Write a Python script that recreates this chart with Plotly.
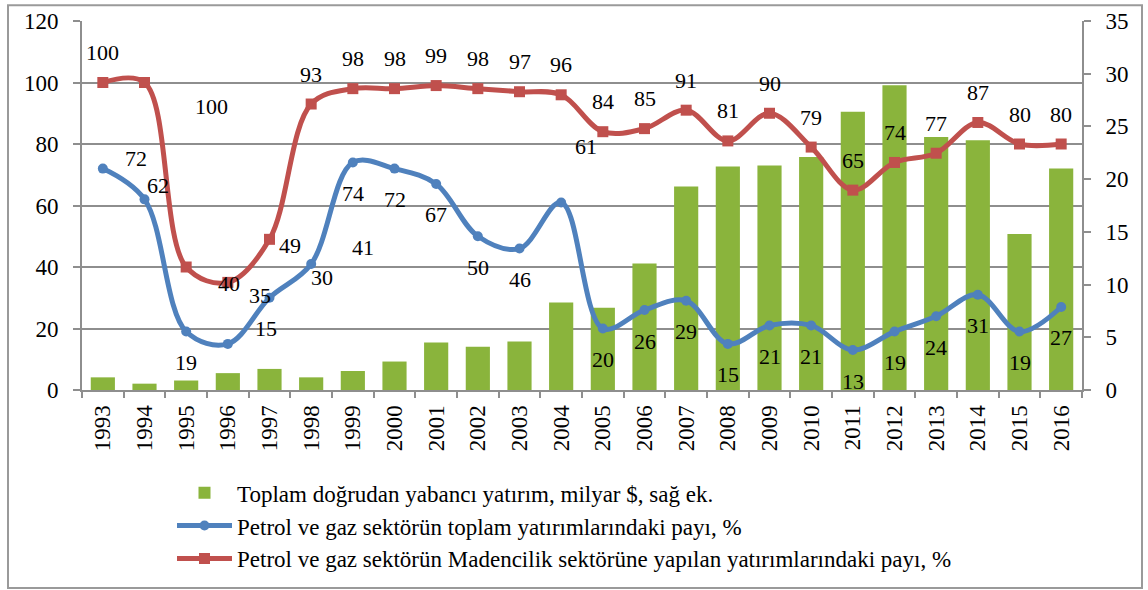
import plotly.graph_objects as go

# --- data -------------------------------------------------------------
years = [str(y) for y in range(1993, 2017)]

# Toplam doğrudan yabancı yatırım, milyar $ (sağ eksen)
fdi_total = [1.2, 0.6, 0.9, 1.6, 2.0, 1.2, 1.8, 2.7, 4.5, 4.1, 4.6, 8.3,
             7.8, 12.0, 19.3, 21.2, 21.3, 22.1, 26.4, 28.9, 24.0, 23.7, 14.8, 21.0]

# Petrol ve gaz sektörünün toplam yatırımlardaki payı, %
share_total = [72, 62, 19, 15, 30, 41, 74, 72, 67, 50, 46, 61,
               20, 26, 29, 15, 21, 21, 13, 19, 24, 31, 19, 27]

# Petrol ve gaz sektörünün madencilik yatırımlarındaki payı, %
share_mining = [100, 100, 40, 35, 49, 93, 98, 98, 99, 98, 97, 96,
                84, 85, 91, 81, 90, 79, 65, 74, 77, 87, 80, 80]

legend_names = [
    "Toplam doğrudan yabancı yatırım, milyar $, sağ ek.",
    "Petrol ve gaz sektörün toplam yatırımlarındaki payı, %",
    "Petrol ve gaz sektörün Madencilik sektörüne yapılan yatırımlarındaki payı, %",
]

# --- styling ----------------------------------------------------------
FONT = "Liberation Serif, Times New Roman, serif"
GRAY = "#8e8e8e"
RED = "#C0504D"
BLUE = "#4F81BD"
GREEN = "#8AB43C"

# label pixel offsets (dx, dy; dy positive = downwards) for labels that
# are moved away from the default placement
blue_default = (0, 31)
red_default = (0, -30)
blue_moved = {0: (33, -10), 1: (13, -14), 3: (38, -15), 4: (52, -20),
              5: (52, -16), 11: (25, -56)}
red_moved = {1: (67, 24), 2: (43, 16), 3: (32, 13), 4: (20, 6)}

fig = go.Figure()

fig.add_trace(go.Bar(
    x=years, y=fdi_total, name=legend_names[0],
    marker=dict(color=GREEN, line=dict(width=0)),
    width=0.58, yaxis="y",
))
fig.add_trace(go.Scatter(
    x=years, y=share_total, name=legend_names[1], yaxis="y2",
    mode="lines+markers",
    line=dict(color=BLUE, width=5, shape="spline", smoothing=1.0),
    marker=dict(symbol="circle", size=10, color=BLUE),
))
fig.add_trace(go.Scatter(
    x=years, y=share_mining, name=legend_names[2], yaxis="y2",
    mode="lines+markers",
    line=dict(color=RED, width=5, shape="spline", smoothing=1.0),
    marker=dict(symbol="square", size=11, color=RED),
))

annotations = []
for series, default, moved in ((share_total, blue_default, blue_moved),
                               (share_mining, red_default, red_moved)):
    for i, v in enumerate(series):
        dx, dy = moved.get(i, default)
        annotations.append(dict(
            x=i, y=v, xref="x", yref="y2", text=str(v),
            showarrow=False, xshift=dx, yshift=-dy,
            font=dict(family=FONT, size=22, color="black"),
        ))

axis_font = dict(family=FONT, size=23, color="black")

fig.update_layout(
    width=1148, height=590,
    margin=dict(l=82, r=66, t=21, b=200, autoexpand=False),
    paper_bgcolor="white", plot_bgcolor="white",
    font=dict(family=FONT, color="black"),
    bargap=0.42,
    xaxis=dict(
        type="category", range=[-0.5, len(years) - 0.5], tickangle=-90,
        tickfont=axis_font, automargin=False,
        showline=True, linecolor=GRAY, linewidth=2,
        ticks="outside", tickson="boundaries", ticklen=6, tickcolor=GRAY,
        tickwidth=1.5, showgrid=False, ticklabelstandoff=4,
    ),
    yaxis=dict(
        side="right", range=[0, 35], dtick=5, tickfont=axis_font,
        automargin=False,
        showline=True, linecolor=GRAY, linewidth=2, showgrid=False,
        ticks="outside", ticklen=7, tickcolor=GRAY, tickwidth=1.5,
        ticklabelstandoff=10, zeroline=False,
    ),
    yaxis2=dict(
        side="left", overlaying="y", range=[0, 120], dtick=20,
        tickfont=axis_font, automargin=False,
        showline=True, linecolor=GRAY, linewidth=2,
        showgrid=True, gridcolor=GRAY, gridwidth=1.5,
        ticks="outside", ticklen=7, tickcolor=GRAY, tickwidth=1.5,
        ticklabelstandoff=10, zeroline=False,
    ),
    legend=dict(
        x=0.09, y=-0.22, xanchor="left", yanchor="top",
        font=dict(family=FONT, size=23, color="black"),
        itemwidth=55, bgcolor="rgba(0,0,0,0)", tracegroupgap=0,
    ),
    annotations=annotations,
    shapes=[dict(
        type="rect", xref="paper", yref="paper",
        x0=-0.074, x1=1.06, y0=-0.5366, y1=1.043,
        line=dict(color="#9a9a9a", width=2), layer="below",
    )],
)

fig.write_html("out.html")
